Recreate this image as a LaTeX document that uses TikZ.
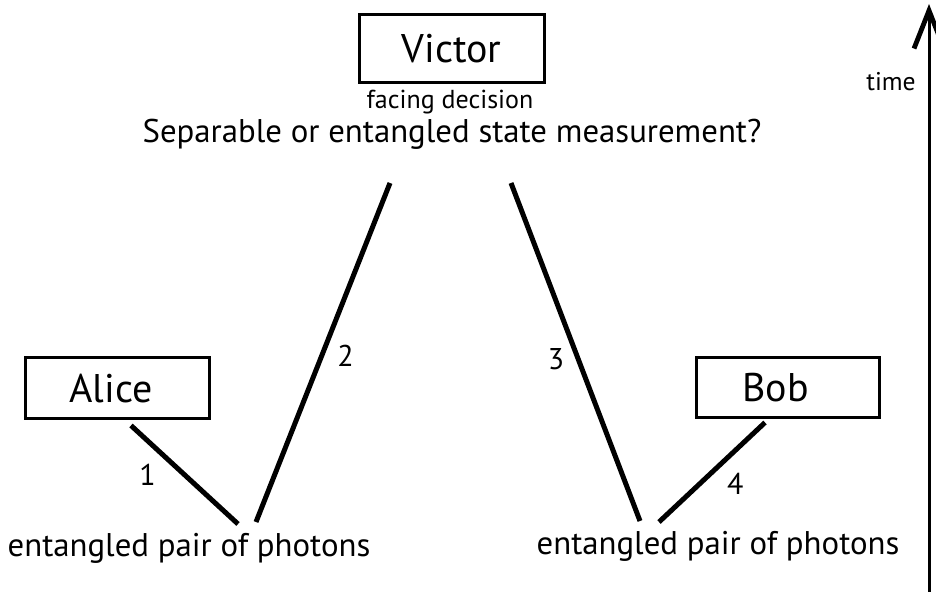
\documentclass[tikz,border=0pt]{standalone}
\usepackage{fontspec}
\setmainfont{PT Sans}
\usetikzlibrary{arrows.meta,calc,positioning}

\tikzset{
  party/.style={draw,line width=1.5pt,inner sep=0pt,font=\fontsize{20}{24}\selectfont},
  note/.style={inner sep=0pt,font=\fontsize{16.4}{19}\selectfont},
  photon/.style={line width=2.5pt},
  num/.style={inner sep=0pt,font=\fontsize{15}{18}\selectfont}
}

\begin{document}
\begin{tikzpicture}[x=0.5pt,y=-0.5pt]
  \useasboundingbox (0,0) rectangle (936,592);
  % observers
  \node[party,minimum width=92.5pt,minimum height=34pt] (victor) at (451.5,49) {Victor};
  \node[party,minimum width=92pt,minimum height=30.5pt] (alice) at (117,388.5) {Alice\kern6pt};
  \node[party,minimum width=91.5pt,minimum height=30pt] (bob) at (787.5,387.5) {Bob\kern12pt};
  % texts
  \node[inner sep=0pt,font=\fontsize{13}{15}\selectfont] (decision) at (450,102) {facing decision};
  \node[note] (question) at (452,134) {Separable or entangled state measurement?};
  \node[note] (pairL) at (189,548) {entangled pair of photons};
  \node[note] (pairR) at (718,546) {entangled pair of photons};
  \node[inner sep=0pt,font=\fontsize{12.8}{15}\selectfont] (timelbl) at (891,82) {time};
  % photon paths
  \draw[photon] ($(alice.south)+(14,5)$) -- ($(pairL.center)+(49,-24)$)
    node[num,pos=.5,xshift=-18.5pt] (n1) {1};
  \draw[photon] ($(pairL.center)+(67,-26)$) -- ($(question.center)+(-62,49)$)
    node[num,pos=.49,xshift=12pt] (n2) {2};
  \draw[photon] ($(question.center)+(59,49)$) -- ($(pairR.center)+(-78,-25)$)
    node[num,pos=.52,xshift=-11pt] (n3) {3};
  \draw[photon] ($(bob.south)+(-22.5,3.5)$) -- ($(pairR.center)+(-59,-24)$)
    node[num,pos=.62,xshift=18pt] (n4) {4};
  % time axis
  \coordinate (tbot) at (929,600);
  \coordinate (ttop) at (929,4);
  \draw[line width=1.5pt,-{Straight Barb[length=19pt,width=15pt,line width=2.4pt]}] (tbot) -- (ttop);
\end{tikzpicture}
\end{document}
